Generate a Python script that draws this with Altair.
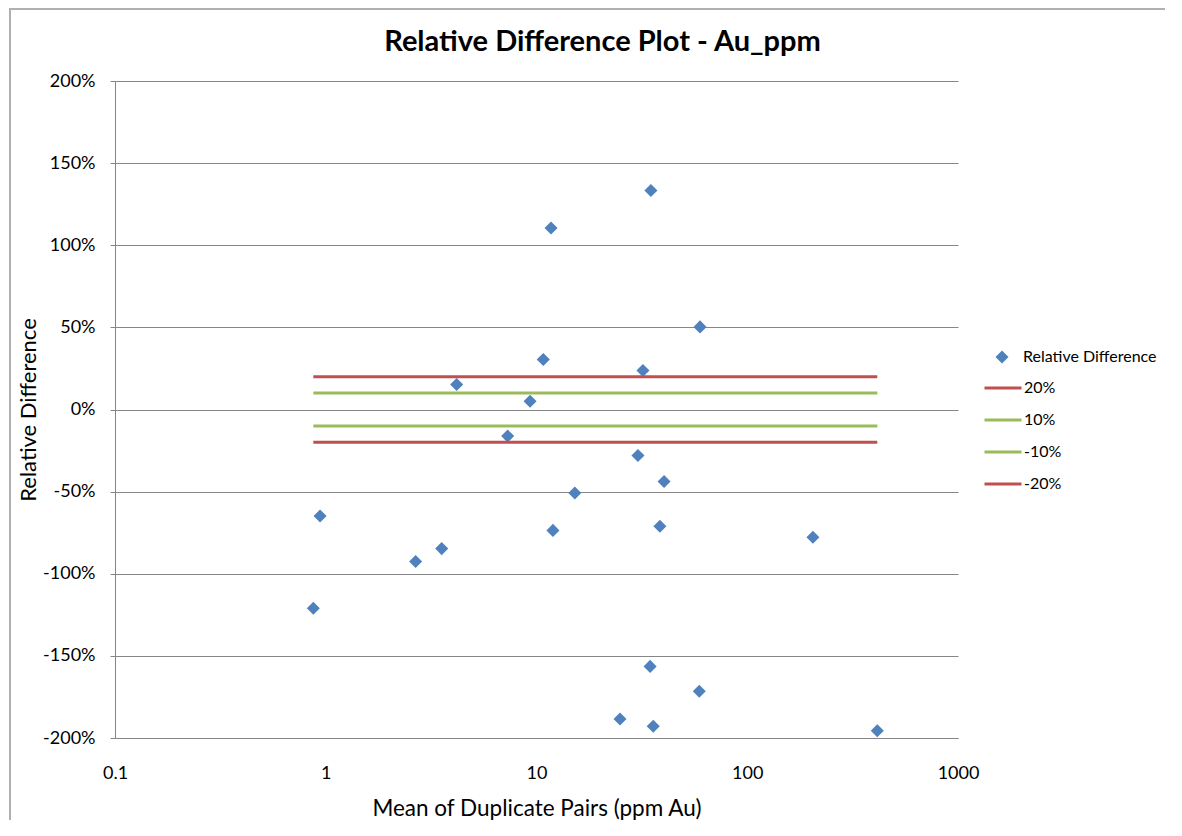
import altair as alt
import pandas as pd

# Data
mean_ppm = [0.873, 0.94, 2.67, 3.55, 4.18, 7.30, 9.32, 10.77, 11.72, 11.97, 15.2,
            24.9, 30.3, 32.0, 34.9, 34.6, 35.8, 38.5, 40.3, 59.2, 59.7, 205, 414]
rel_diff = [-121.0, -64.9, -92.6, -84.7, 15.2, -16.2, 5.0, 30.4, 110.5, -73.6, -50.8,
            -188.4, -28.0, 23.7, 133.3, -156.4, -192.9, -71.1, -43.8, -171.6, 50.3, -77.8, -195.6]

limit_names = ["20%", "10%", "-10%", "-20%"]
limit_values = [20, 10, -10, -20]
limit_colors = ["#C0504D", "#9BBB59", "#9BBB59", "#C0504D"]

x_ticks = [0.1, 1, 10, 100, 1000]
y_ticks = [-200, -150, -100, -50, 0, 50, 100, 150, 200]

FONT = "Lato"

pts = pd.DataFrame({"x": mean_ppm, "y": rel_diff, "series": "Relative Difference"})
x_min, x_max = min(mean_ppm), max(mean_ppm)
lines = pd.DataFrame(
    [{"x": xv, "y": v, "limit": n} for n, v in zip(limit_names, limit_values) for xv in (x_min, x_max)]
)

x_scale = alt.Scale(type="log", domain=[0.1, 1000], nice=False)
y_scale = alt.Scale(domain=[-200, 200], nice=False)

x_axis = alt.Axis(
    values=x_ticks, grid=False, ticks=False, labelFontSize=18, labelPadding=26,
    labelExpr="datum.value < 1 ? '0.1' : format(datum.value, 'd')",
    title="Mean of Duplicate Pairs (ppm Au)", titleFontSize=22.5, titleFontWeight="normal",
    titlePadding=15, domainColor="#868686", labelColor="#000000", titleColor="#000000",
    labelFlush=False,
)
y_axis = alt.Axis(
    values=y_ticks, grid=True, gridColor="#868686", tickColor="#868686", tickSize=5,
    labelFontSize=18, labelPadding=15, labelExpr="datum.value + '%'",
    title="Relative Difference", titleFontSize=22, titleFontWeight="normal",
    titlePadding=2, domainColor="#868686", labelColor="#000000", titleColor="#000000",
)

points = alt.Chart(pts).mark_point(shape="diamond", filled=True, size=170, opacity=1).encode(
    x=alt.X("x:Q", scale=x_scale, axis=x_axis),
    y=alt.Y("y:Q", scale=y_scale, axis=y_axis),
    color=alt.Color(
        "series:N",
        scale=alt.Scale(domain=["Relative Difference"], range=["#4F81BD"]),
        legend=alt.Legend(
            title=None, orient="none", legendX=879, legendY=268, labelFontSize=16,
            labelOffset=13, symbolSize=170, symbolType="diamond", padding=0,
            labelColor="#000000", labelFont=FONT,
        ),
    ),
)

limit_lines = alt.Chart(lines).mark_line(strokeWidth=3).encode(
    x=alt.X("x:Q", scale=x_scale),
    y=alt.Y("y:Q", scale=y_scale),
    color=alt.Color(
        "limit:N",
        scale=alt.Scale(domain=limit_names, range=limit_colors),
        sort=limit_names,
        legend=alt.Legend(
            title=None, orient="none", legendX=868, legendY=287, labelFontSize=16,
            labelOffset=1, symbolType="stroke", symbolSize=1369, symbolStrokeWidth=3,
            padding=0, rowPadding=4, labelColor="#000000", labelFont=FONT,
        ),
    ),
)

frame = pd.DataFrame({"a": [0]})
border_left = alt.Chart(frame).mark_rule(stroke="#B0B0B0", strokeWidth=2).encode(
    x=alt.value(-105), x2=alt.value(-105), y=alt.value(-73), y2=alt.value(739)
)
border_top = alt.Chart(frame).mark_rule(stroke="#B0B0B0", strokeWidth=2).encode(
    x=alt.value(-106), x2=alt.value(1050), y=alt.value(-72), y2=alt.value(-72)
)

chart = alt.layer(border_left, border_top, points, limit_lines).resolve_scale(
    color="independent"
).properties(
    width=843,
    height=657,
    autosize=alt.AutoSizeParams(type="none"),
    padding={"left": 107, "top": 73, "right": 207, "bottom": 82},
    title=alt.TitleParams(
        "Relative Difference Plot - Au_ppm", fontSize=29, fontWeight="bold", font=FONT,
        anchor="middle", dx=66, offset=0, dy=50, color="#000000",
    ),
).configure(font=FONT).configure_view(stroke=None)

chart.save("out.html", embed_options={"renderer": "svg", "actions": False})
